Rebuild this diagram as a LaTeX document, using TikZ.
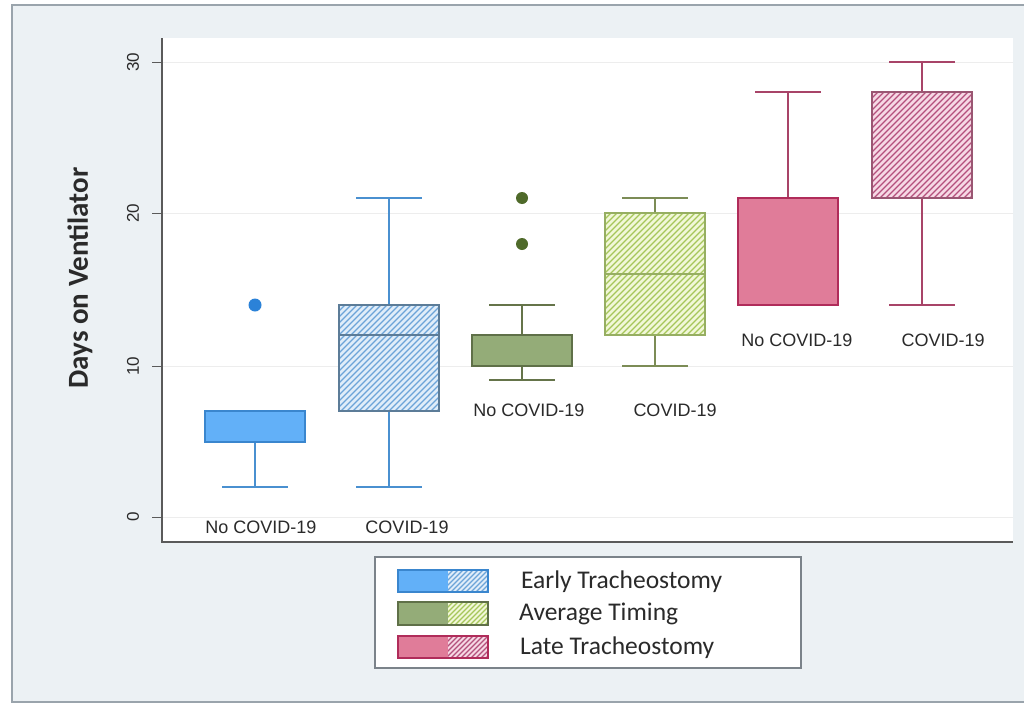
\documentclass[tikz,border=0pt]{standalone}
\usepackage{fontspec}
\setmainfont{Liberation Sans}
\newfontfamily\calib{Carlito}
\definecolor{outerbg}{HTML}{ECF1F4}
\definecolor{framecol}{HTML}{9AA4AC}
\definecolor{axiscol}{HTML}{5A5A5A}
\definecolor{gridcol}{HTML}{EDEDED}
\definecolor{txtcol}{HTML}{2A2A2A}
\definecolor{bluefill}{HTML}{62B0F8}
\definecolor{blueedge}{HTML}{3A86CE}
\definecolor{bluewhisk}{HTML}{4A90D0}
\definecolor{bluedot}{HTML}{2B82D8}
\definecolor{bluehbg}{HTML}{E0EDF9}
\definecolor{bluehline}{HTML}{6CA4D8}
\definecolor{bluehedge}{HTML}{5C7C98}
\definecolor{grnfill}{HTML}{94AC78}
\definecolor{grnedge}{HTML}{5F7048}
\definecolor{grnwhisk}{HTML}{65744A}
\definecolor{grndot}{HTML}{4F6A2A}
\definecolor{grnhbg}{HTML}{F1F7D8}
\definecolor{grnhline}{HTML}{A6C65A}
\definecolor{grnhedge}{HTML}{96AE62}
\definecolor{grnhwhisk}{HTML}{7C8C56}
\definecolor{pnkfill}{HTML}{E07C99}
\definecolor{pnkedge}{HTML}{B02C5A}
\definecolor{pnkwhisk}{HTML}{A84468}
\definecolor{pnkhbg}{HTML}{F6D8E4}
\definecolor{pnkhline}{HTML}{B4507C}
\definecolor{pnkhedge}{HTML}{9A5672}
\newcommand\hatchrect[7]{%
  \begin{scope}
    \clip (#1,#2) rectangle (#3,#4);
    \fill[#5] (#1,#2) rectangle (#3,#4);
    \pgfmathsetmacro\hh{#4-#2}
    \pgfmathsetmacro\hs{#1-\hh}
    \pgfmathsetmacro\hn{#1-\hh+#7}
    \foreach \xx in {\hs,\hn,...,#3} \draw[#6, line width=1.3] (\xx,#4) -- ++(\hh+2,-\hh-2);
  \end{scope}}
\tikzset{
  whisk/.style={line width=1.6},
  catlabel/.style={text=txtcol, font=\fontsize{18}{18}\selectfont, inner sep=0pt},
  ticklabel/.style={text=txtcol, font=\fontsize{17}{17}\selectfont, rotate=90, inner sep=0pt},
  legtext/.style={text=txtcol, font=\calib\fontsize{25.5}{25.5}\selectfont, anchor=west, inner sep=0pt},
}
\begin{document}
\begin{tikzpicture}[x=1pt,y=-1pt]
\useasboundingbox (0,0) rectangle (1024,704);
\clip (0,0) rectangle (1024,704);
\fill[white] (0,0) rectangle (1024,704);
\draw[framecol, fill=outerbg, line width=1.5] (12,5) rectangle (1034,702);
\fill[white] (162,38) rectangle (1013,542);
% grid
\foreach \yy in {62,213,366,517} \draw[gridcol, line width=1] (163,\yy) -- (1013,\yy);
% axes
\draw[axiscol, line width=1.2] (162,38) -- (162,542) -- (1013,542);
\foreach \yy in {62,213,366,517} \draw[axiscol, line width=1] (152,\yy) -- (162,\yy);
\node[ticklabel] (t30) at (133,62) {30};
\node[ticklabel] (t20) at (133,213) {20};
\node[ticklabel] (t10) at (133,366) {10};
\node[ticklabel] (t0) at (133,517) {0};
\node[rotate=90, text=txtcol, font=\calib\bfseries\fontsize{29}{29}\selectfont, inner sep=0pt] (ylab) at (80,278) {Days on Ventilator};

% Box 1: Early, no COVID
\draw[bluewhisk, whisk] (255,442) -- (255,487) (222,487) -- (288,487);
\draw[blueedge, fill=bluefill, line width=1.6] (205,411) rectangle (305,442);
\fill[bluedot] (255,305) circle (6.5);
% Box 2: Early, COVID
\draw[bluewhisk, whisk] (389,305) -- (389,198) (356,198) -- (422,198);
\draw[bluewhisk, whisk] (389,411) -- (389,487) (356,487) -- (422,487);
\hatchrect{339}{305}{439}{411}{bluehbg}{bluehline}{6}
\draw[bluehedge, line width=1.4] (339,305) rectangle (439,411);
\draw[bluehedge, line width=1.2] (339,335) -- (439,335);
% Box 3: Average, no COVID
\draw[grnwhisk, whisk] (522,335) -- (522,305) (489,305) -- (555,305);
\draw[grnwhisk, whisk] (522,366) -- (522,380) (489,380) -- (555,380);
\draw[grnedge, fill=grnfill, line width=1.4] (472,335) rectangle (572,366);
\fill[grndot] (522,244) circle (6);
\fill[grndot] (522,198) circle (6);
% Box 4: Average, COVID
\draw[grnhwhisk, whisk] (655,213) -- (655,198) (622,198) -- (688,198);
\draw[grnhwhisk, whisk] (655,335) -- (655,366) (622,366) -- (688,366);
\hatchrect{605}{213}{705}{335}{grnhbg}{grnhline}{6}
\draw[grnhedge, line width=1.4] (605,213) rectangle (705,335);
\draw[grnhedge, line width=1.2] (605,274) -- (705,274);
% Box 5: Late, no COVID
\draw[pnkwhisk, whisk] (788,198) -- (788,92) (755,92) -- (821,92);
\draw[pnkedge, fill=pnkfill, line width=1.5] (738,198) rectangle (838,305);
\draw[pnkedge, line width=2.5] (738,198) -- (838,198);
% Box 6: Late, COVID
\draw[pnkwhisk, whisk] (922,92) -- (922,62) (889,62) -- (955,62);
\draw[pnkwhisk, whisk] (922,198) -- (922,305) (889,305) -- (955,305);
\hatchrect{872}{92}{972}{198}{pnkhbg}{pnkhline}{6}
\draw[pnkhedge, line width=1.4] (872,92) rectangle (972,198);

% category labels
\node[catlabel] (c1) at (261,527) {No COVID-19};
\node[catlabel] (c2) at (407,527) {COVID-19};
\node[catlabel] (c3) at (529,410) {No COVID-19};
\node[catlabel] (c4) at (675,410) {COVID-19};
\node[catlabel] (c5) at (797,340) {No COVID-19};
\node[catlabel] (c6) at (943,340) {COVID-19};

% legend
\draw[framecol!80!black, fill=white, line width=1.2] (375,557) rectangle (801,668);
% row 1
\fill[bluefill] (398,570) rectangle (448,592);
\hatchrect{448}{570}{488}{592}{bluehbg}{bluehline}{5}
\draw[blueedge, line width=1.2] (398,570) rectangle (488,592);
\node[legtext] (l1) at (521,582) {Early Tracheostomy};
% row 2
\fill[grnfill] (398,602) rectangle (448,625);
\hatchrect{448}{602}{488}{625}{grnhbg}{grnhline}{5}
\draw[grnedge, line width=1.2] (398,602) rectangle (488,625);
\node[legtext] (l2) at (519,614) {Average Timing};
% row 3
\fill[pnkfill] (398,636) rectangle (448,658);
\hatchrect{448}{636}{488}{658}{pnkhbg}{pnkhline}{5}
\draw[pnkedge, line width=1.2] (398,636) rectangle (488,658);
\node[legtext] (l3) at (520,648) {Late Tracheostomy};
\end{tikzpicture}
\end{document}
